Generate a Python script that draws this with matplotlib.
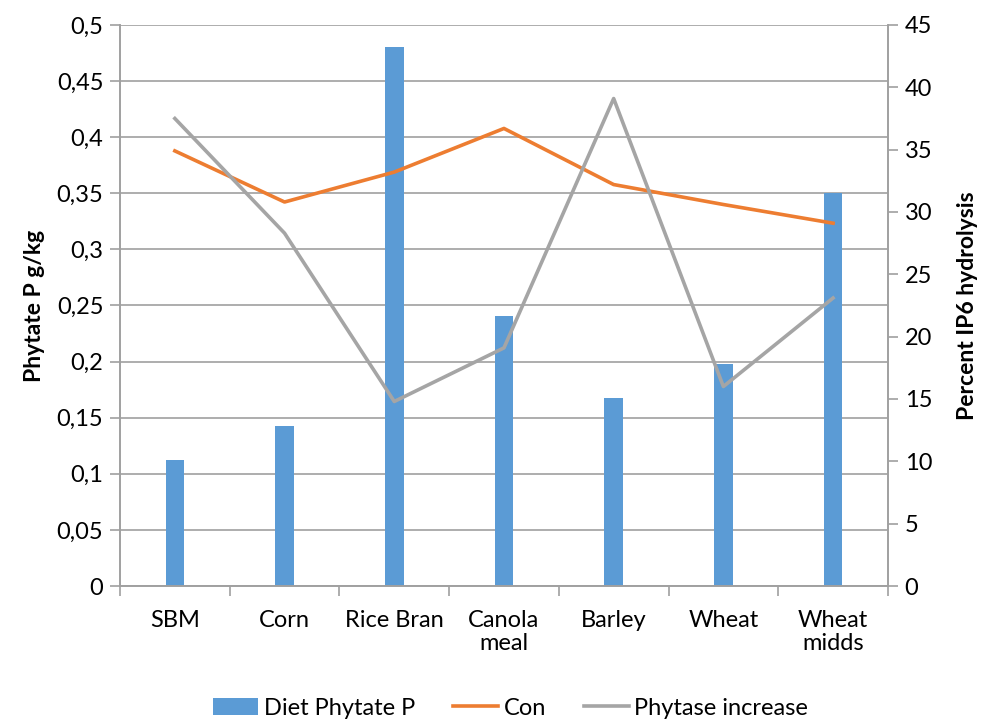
import numpy as np
import matplotlib.pyplot as plt
from matplotlib.ticker import FuncFormatter, MultipleLocator

plt.rcParams['font.family'] = ['Lato', 'DejaVu Sans']

feeds = ["SBM", "Corn", "Rice Bran", "Canola\nmeal", "Barley", "Wheat", "Wheat\nmidds"]
diet_phytate_p = [0.112, 0.143, 0.48, 0.241, 0.168, 0.198, 0.35]
con = [34.9, 30.8, 33.2, 36.7, 32.2, 30.6, 29.1]
phytase_increase = [37.5, 28.3, 14.8, 19.1, 39.1, 16.0, 23.1]

blue = "#5B9BD5"
orange = "#ED7D31"
grey = "#A5A5A5"
axis_col = "#A0A0A0"
fs = 17

fig = plt.figure(figsize=(9.82, 7.24), dpi=100)
ax = fig.add_axes([0.1222, 0.1906, 0.782, 0.7749])
ax2 = ax.twinx()

x = np.arange(len(feeds))
bars = ax.bar(x, diet_phytate_p, width=0.17, color=blue, zorder=2, label="Diet Phytate P")
l1, = ax2.plot(x, con, color=orange, lw=2.6, label="Con")
l2, = ax2.plot(x, phytase_increase, color=grey, lw=2.6, label="Phytase increase")

# left axis: 0..0.5 with comma decimals
ax.set_ylim(0, 0.5)
ax.set_xlim(-0.5, len(feeds) - 0.5)
ax.yaxis.set_major_locator(MultipleLocator(0.05))
ax.yaxis.set_major_formatter(FuncFormatter(lambda v, p: ("%g" % round(v, 2)).replace(".", ",")))
ax.grid(axis="y", color=axis_col, lw=1.2, zorder=0)
ax.set_axisbelow(True)

ax2.set_ylim(0, 45)
ax2.yaxis.set_major_locator(MultipleLocator(5))

# category labels centred, tick marks between categories
ax.set_xticks(x)
ax.set_xticklabels(feeds, fontsize=fs, linespacing=1.15)
ax.tick_params(axis="x", which="major", length=0, pad=17)
ax.set_xticks(np.arange(-0.5, len(feeds)), minor=True)
ax.tick_params(axis="x", which="minor", length=7, color=axis_col, width=1.2)

ax.tick_params(axis="y", length=7, color=axis_col, width=1.2, labelsize=fs, pad=5)
ax2.tick_params(axis="y", length=7, color=axis_col, width=1.2, labelsize=fs, pad=5)

for a in (ax, ax2):
    for s in a.spines.values():
        s.set_color(axis_col)
        s.set_linewidth(1.2)
    a.spines["top"].set_visible(False)

ax.set_ylabel("Phytate P g/kg", fontsize=16.5, fontweight="bold", labelpad=8)
ax2.set_ylabel("Percent IP6 hydrolysis", fontsize=16.5, fontweight="bold",
               rotation=90, labelpad=18)

fig.legend([bars, l1, l2], ["Diet Phytate P", "Con", "Phytase increase"],
           loc="lower center", bbox_to_anchor=(0.52, -0.022), ncol=3, frameon=False,
           fontsize=fs, handlelength=1.9, handleheight=0.7, handletextpad=0.25,
           columnspacing=1.6)

plt.savefig("out.png", dpi=100)
